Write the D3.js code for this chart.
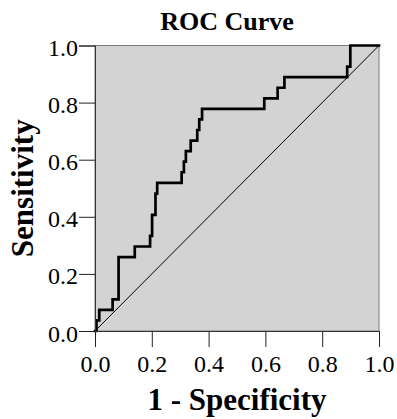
<!DOCTYPE html>
<html>
<head>
<meta charset="utf-8">
<script src="https://cdn.jsdelivr.net/npm/d3@7"></script>
<style>
  html, body { margin: 0; padding: 0; background: #fff; }
  svg { display: block; }
  text { font-family: "Liberation Serif", "Times New Roman", serif; fill: #000; }
</style>
</head>
<body>
<svg id="chart" width="397" height="419"></svg>
<script>
const title = "ROC Curve";
const xTitle = "1 - Specificity";
const yTitle = "Sensitivity";
const tickValues = [0, 0.2, 0.4, 0.6, 0.8, 1.0];
const fpr = [0, 0.005, 0.015, 0.062, 0.083, 0.140, 0.194, 0.201, 0.213, 0.219, 0.305, 0.313, 0.320, 0.337, 0.360, 0.367, 0.377, 0.596, 0.643, 0.667, 0.888, 0.899, 1.0];
const tpr = [0, 0.037, 0.074, 0.111, 0.259, 0.296, 0.333, 0.407, 0.481, 0.519, 0.556, 0.593, 0.630, 0.667, 0.704, 0.741, 0.778, 0.815, 0.852, 0.889, 0.926, 1.0, 1.0];
const refLine = [0, 1];

const svg = d3.select("#chart");
const L = 95, R = 379, T = 45.5, B = 331;
const x = d3.scaleLinear().domain([0, 1]).range([L, R]);
const y = d3.scaleLinear().domain([0, 1]).range([B, T]);

// plot background
svg.append("rect").attr("x", L).attr("y", T).attr("width", R - L).attr("height", B - T)
  .attr("fill", "#d3d3d3").attr("stroke", "#7a7a7a").attr("stroke-width", 1);

// reference diagonal
svg.append("line")
  .attr("x1", x(refLine[0])).attr("y1", y(refLine[0]))
  .attr("x2", x(refLine[1])).attr("y2", y(refLine[1]))
  .attr("stroke", "#000").attr("stroke-width", 1);

// ROC curve
const pts = fpr.map((f, i) => [f, tpr[i]]);
const line = d3.line().x(d => x(d[0])).y(d => y(d[1])).curve(d3.curveStepAfter);
svg.append("path").datum(pts).attr("d", line)
  .attr("fill", "none").attr("stroke", "#000").attr("stroke-width", 2.7)
  .attr("stroke-linejoin", "miter").attr("stroke-linecap", "square");

// axes
const xAxis = d3.axisBottom(x).tickValues(tickValues).tickFormat(d3.format(".1f")).tickSize(16).tickPadding(0);
const gx = svg.append("g").attr("transform", `translate(0,${B})`).call(xAxis);
gx.select(".domain").attr("stroke", "#333");
gx.selectAll(".tick line").attr("stroke", "#222");
gx.selectAll(".tick text").attr("font-size", 24).attr("dy", null).attr("y", 41)
  .attr("font-family", "Liberation Serif, serif");

const yAxis = d3.axisLeft(y).tickValues(tickValues).tickFormat(d3.format(".1f")).tickSize(16).tickPadding(1);
const gy = svg.append("g").attr("transform", `translate(${L},0)`).call(yAxis);
gy.select(".domain").attr("stroke", "#333");
gy.selectAll(".tick line").attr("stroke", "#222");
gy.selectAll(".tick text").attr("font-size", 24).attr("dy", null).attr("y", 10)
  .attr("font-family", "Liberation Serif, serif");

// titles
svg.append("text").attr("x", 227).attr("y", 29.5).attr("text-anchor", "middle")
  .attr("font-size", 26).attr("font-weight", "bold").text(title);
svg.append("text").attr("x", (L + R) / 2).attr("y", 410).attr("text-anchor", "middle")
  .attr("font-size", 31).attr("font-weight", "bold").text(xTitle);
svg.append("text").attr("transform", `translate(33,${(T + B) / 2}) rotate(-90)`)
  .attr("text-anchor", "middle").attr("font-size", 31).attr("font-weight", "bold").text(yTitle);
</script>
</body>
</html>
